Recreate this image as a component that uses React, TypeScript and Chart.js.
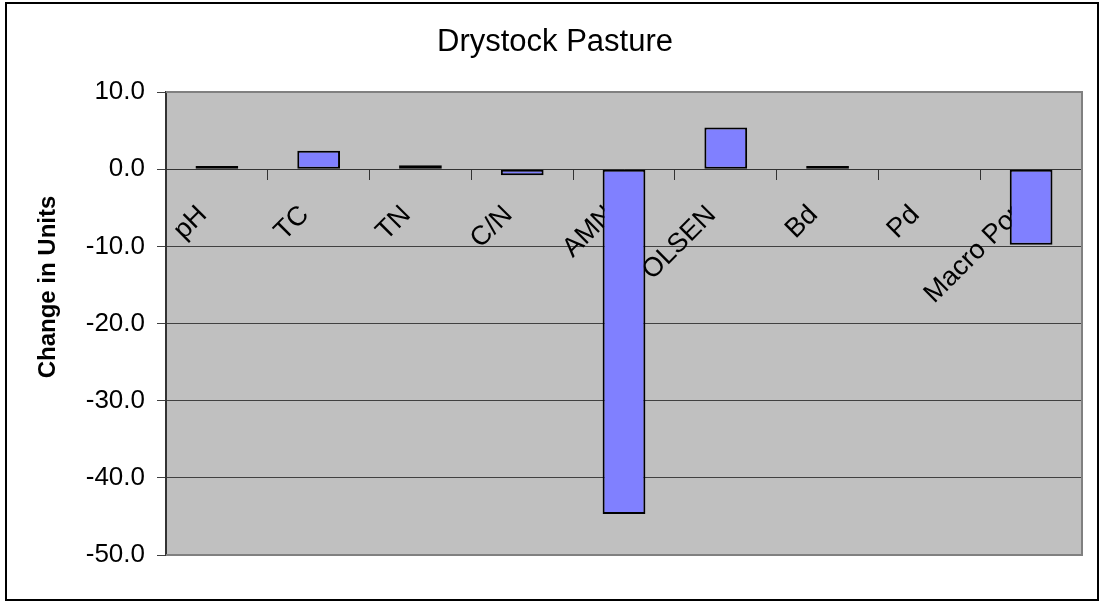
import React, { useEffect, useRef } from 'react';
import { Chart, registerables } from 'chart.js';

Chart.register(...registerables);

const categories = ['pH', 'TC', 'TN', 'C/N', 'AMN', 'OLSEN', 'Bd', 'Pd', 'Macro Por'];
const changeValues = [0.4, 2.4, 0.5, -0.8, -44.7, 5.4, 0.4, 0, -9.8];
const yMin = -50;
const yMax = 10;
const yStep = 10;
const chartTitle = 'Drystock Pasture';
const yAxisTitle = 'Change in Units';

const FONT = "'Liberation Sans', Arial, sans-serif";

const decorPlugin = {
  id: 'decor',
  beforeDraw(chart: any) {
    const { ctx, chartArea: a } = chart;
    ctx.save();
    ctx.fillStyle = '#ffffff';
    ctx.fillRect(0, 0, chart.width, chart.height);
    ctx.fillStyle = '#C0C0C0';
    ctx.fillRect(a.left, a.top, a.right - a.left, a.bottom - a.top);
    // outer frame
    ctx.strokeStyle = '#000000';
    ctx.lineWidth = 2;
    ctx.strokeRect(6, 3, 1092, 597);
    // title
    ctx.fillStyle = '#000000';
    ctx.font = `31px ${FONT}`;
    ctx.textAlign = 'center';
    ctx.textBaseline = 'alphabetic';
    ctx.fillText(chartTitle, 555, 51);
    // y axis title
    ctx.translate(55, 287);
    ctx.rotate(-Math.PI / 2);
    ctx.font = `bold 24px ${FONT}`;
    ctx.fillText(yAxisTitle, 0, 0);
    ctx.restore();
  },
  afterDatasetsDraw(chart: any) {
    const { ctx, chartArea: a } = chart;
    ctx.save();
    ctx.strokeStyle = '#808080';
    ctx.lineWidth = 2;
    ctx.beginPath();
    ctx.moveTo(a.left, a.top);
    ctx.lineTo(a.right, a.top);
    ctx.lineTo(a.right, a.bottom);
    ctx.lineTo(a.left, a.bottom);
    ctx.stroke();
    ctx.restore();
  },
};

export default function App() {
  const canvasRef = useRef<HTMLCanvasElement | null>(null);

  useEffect(() => {
    document.body.style.margin = '0';
    const canvas = canvasRef.current;
    if (!canvas) return;
    const chart = new Chart(canvas, {
      type: 'bar',
      data: {
        labels: categories,
        datasets: [
          {
            data: changeValues,
            backgroundColor: '#8080FF',
            borderColor: '#000000',
            borderWidth: 2,
            borderSkipped: false,
            categoryPercentage: 1,
            barPercentage: 0.42,
          },
        ],
      },
      options: {
        responsive: false,
        animation: false,
        devicePixelRatio: 1,
        layout: { padding: { left: 0, top: 92, right: 19, bottom: 49 } },
        plugins: {
          legend: { display: false },
          tooltip: { enabled: false },
          title: { display: false },
        },
        scales: {
          x: {
            type: 'category',
            position: { y: 0 },
            offset: true,
            z: 1,
            grid: {
              offset: true,
              drawOnChartArea: false,
              drawTicks: true,
              tickLength: 10,
              color: '#333333',
              lineWidth: 1,
            },
            border: { display: true, color: '#333333', width: 1 },
            ticks: {
              autoSkip: false,
              minRotation: 45,
              maxRotation: 45,
              color: '#000000',
              font: { family: FONT, size: 27 },
              padding: 20,
              labelOffset: -14,
            },
          },
          y: {
            min: yMin,
            max: yMax,
            position: 'left',
            afterFit: (scale: any) => {
              scale.width = 166;
            },
            grid: {
              color: '#404040',
              lineWidth: 1,
              drawTicks: true,
              tickLength: 9,
            },
            border: { display: true, color: '#333333', width: 2 },
            ticks: {
              stepSize: yStep,
              color: '#000000',
              font: { family: FONT, size: 26 },
              padding: 12,
              callback: (v: any) => Number(v).toFixed(1),
            },
          },
        },
      },
      plugins: [decorPlugin],
    });
    return () => chart.destroy();
  }, []);

  return (
    <div style={{ width: 1101, height: 604 }}>
      <canvas ref={canvasRef} width={1101} height={604} style={{ display: 'block' }} />
    </div>
  );
}
